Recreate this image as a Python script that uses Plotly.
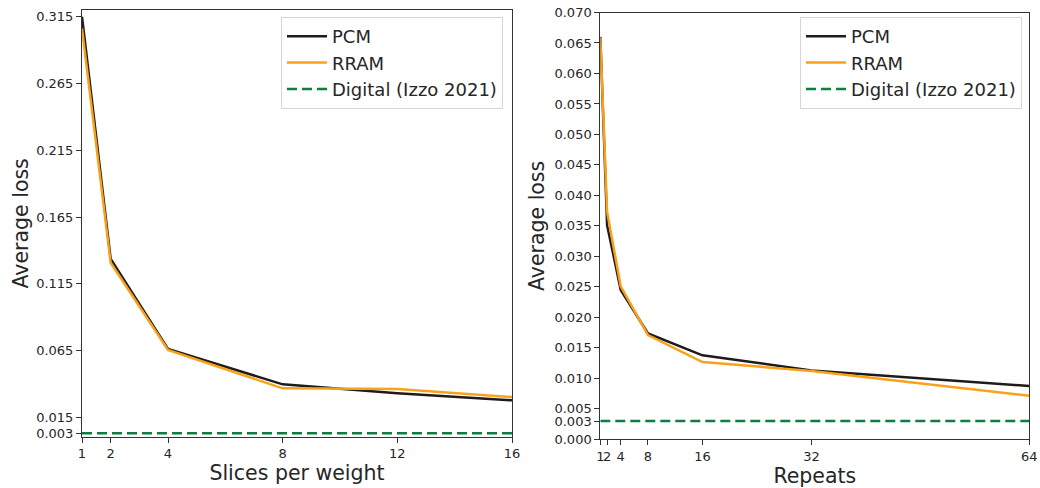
import plotly.graph_objects as go

# Left panel: loss vs number of slices per weight
slices = [1, 2, 4, 8, 12, 16]
pcm_slices = [0.3150, 0.1337, 0.0662, 0.0397, 0.0330, 0.0277]
rram_slices = [0.3060, 0.1307, 0.0655, 0.0367, 0.0362, 0.0302]

# Right panel: loss vs number of repeats
repeats = [1, 2, 4, 8, 16, 32, 64]
pcm_repeats = [0.0660, 0.0351, 0.0245, 0.01737, 0.01377, 0.01130, 0.00874]
rram_repeats = [0.0658, 0.0373, 0.0251, 0.01710, 0.01267, 0.01120, 0.00715]

# Digital reference loss (Izzo 2021)
digital_loss = 0.003

left_yticks = [0.003, 0.015, 0.065, 0.115, 0.165, 0.215, 0.265, 0.315]
right_yticks = [0.000, 0.003, 0.005, 0.010, 0.015, 0.020, 0.025, 0.030, 0.035,
                0.040, 0.045, 0.050, 0.055, 0.060, 0.065, 0.070]

PCM_COLOR = "#1f1b1a"
RRAM_COLOR = "#f9a11b"
DIGITAL_COLOR = "#0b7f3f"
TEXT = "#262626"
FONT = "DejaVu Sans"

fig = go.Figure()


def add_panel(x, pcm, rram, xaxis, yaxis, legend):
    fig.add_trace(go.Scatter(x=x, y=pcm, mode="lines", name="PCM",
                             line=dict(color=PCM_COLOR, width=2.5),
                             xaxis=xaxis, yaxis=yaxis, legend=legend))
    fig.add_trace(go.Scatter(x=x, y=rram, mode="lines", name="RRAM",
                             line=dict(color=RRAM_COLOR, width=2.5),
                             xaxis=xaxis, yaxis=yaxis, legend=legend))
    fig.add_trace(go.Scatter(x=[x[0], x[-1]], y=[digital_loss, digital_loss],
                             mode="lines", name="Digital (Izzo 2021)",
                             line=dict(color=DIGITAL_COLOR, width=2.5, dash="10px,5px"),
                             xaxis=xaxis, yaxis=yaxis, legend=legend))


add_panel(slices, pcm_slices, rram_slices, "x", "y", "legend")
add_panel(repeats, pcm_repeats, rram_repeats, "x2", "y2", "legend2")

axis_common = dict(
    showline=True, mirror=True, linecolor="#333333", linewidth=1,
    ticks="outside", ticklen=5, tickwidth=1, tickcolor="#333333",
    showgrid=False, zeroline=False, automargin=False, tickangle=0,
    tickfont=dict(family=FONT, size=13, color=TEXT),
    title_font=dict(family=FONT, size=20.5, color=TEXT),
)

legend_common = dict(
    font=dict(family=FONT, size=18, color=TEXT),
    bgcolor="rgba(255,255,255,0.9)", bordercolor="#d6d6d6", borderwidth=1,
    xanchor="right", yanchor="top", tracegroupgap=0, itemwidth=40,
)

fig.update_layout(
    template="none",
    width=1040, height=488,
    margin=dict(l=0, r=0, t=0, b=0),
    paper_bgcolor="white", plot_bgcolor="white",
    font=dict(family=FONT, color=TEXT),
    xaxis=dict(domain=[82 / 1040, 512 / 1040], range=[1, 16],
               tickvals=slices, ticktext=[str(v) for v in slices],
               title=dict(text="Slices per weight", standoff=5), anchor="y",
               **axis_common),
    yaxis=dict(domain=[1 - 436.7 / 488, 1 - 10 / 488], range=[0.0005, 0.3200],
               tickvals=left_yticks, ticktext=[f"{v:.3f}" for v in left_yticks],
               title=dict(text="Average loss", standoff=2), anchor="x",
               **axis_common),
    xaxis2=dict(domain=[600.3 / 1040, 1029.3 / 1040], range=[1, 64],
                tickvals=repeats, ticktext=[str(v) for v in repeats],
                title=dict(text="Repeats", standoff=5), anchor="y2",
                **axis_common),
    yaxis2=dict(domain=[1 - 439.3 / 488, 1 - 12.5 / 488], range=[0, 0.070],
                tickvals=right_yticks, ticktext=[f"{v:.3f}" for v in right_yticks],
                title=dict(text="Average loss", standoff=4), anchor="x2",
                **axis_common),
    legend=dict(x=503 / 1040, y=1 - 17 / 488, **legend_common),
    legend2=dict(x=1022 / 1040, y=1 - 17 / 488, **legend_common),
)

fig.write_html("out.html")
